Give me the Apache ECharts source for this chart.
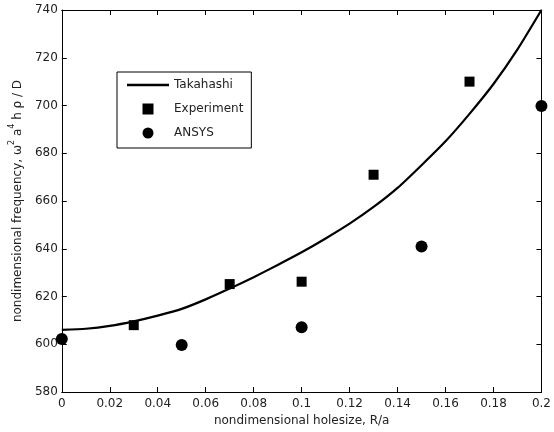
<!DOCTYPE html>
<html>
<head>
<meta charset="utf-8">
<script src="https://cdn.jsdelivr.net/npm/echarts@6/dist/echarts.min.js"></script>
<style>html,body{margin:0;padding:0;background:#fff}#c{width:554px;height:432px}</style>
</head>
<body>
<div id="c"></div>
<script>
// Data
var curveX = [0, 0.01, 0.02, 0.03, 0.04, 0.05, 0.06, 0.07, 0.08, 0.09, 0.10, 0.11, 0.12, 0.13, 0.14, 0.15, 0.16, 0.17, 0.18, 0.19, 0.20];
var takahashi = [606, 606.5, 607.7, 609.6, 612, 614.8, 618.8, 623.3, 628.1, 633.2, 638.5, 644.3, 650.5, 657.5, 665.5, 675, 685, 696.5, 709, 723.5, 740];
var experimentX = [0.03, 0.07, 0.10, 0.13, 0.17];
var experiment = [608, 625.2, 626.2, 671, 710];
var ansysX = [0, 0.05, 0.10, 0.15, 0.20];
var ansys = [602.2, 599.7, 607.1, 640.9, 699.8];
var xTicks = [0, 0.02, 0.04, 0.06, 0.08, 0.1, 0.12, 0.14, 0.16, 0.18, 0.2];
var yTicks = [580, 600, 620, 640, 660, 680, 700, 720, 740];

function zip(a, b) { return a.map(function (v, i) { return [v, b[i]]; }); }

var FONT = 'DejaVu Sans';
var TXT = '#222';
var axisCommon = {
  axisLine: { show: true, onZero: false, lineStyle: { color: '#000', width: 1 } },
  axisTick: { show: true, inside: true, length: 5, lineStyle: { color: '#000' } },
  splitLine: { show: false }
};

var chart = echarts.init(document.getElementById('c'), null, { renderer: 'canvas' });
chart.setOption({
  animation: false,
  backgroundColor: '#fff',
  grid: { left: 61, right: 10, top: 10, bottom: 40, containLabel: false },
  legend: {
    orient: 'vertical',
    left: 117, top: 72,
    padding: [7, 8, 9, 10],
    itemGap: 12,
    itemWidth: 42,
    itemHeight: 11,
    borderColor: '#000',
    borderWidth: 1,
    backgroundColor: '#fff',
    textStyle: { fontFamily: FONT, fontSize: 12, color: TXT },
    data: [
      { name: 'Takahashi', icon: 'path://M0,0L42,0L42,2.5L0,2.5Z', itemStyle: { color: '#000', opacity: 1 } },
      { name: 'Experiment', icon: 'path://M0,0L10,0L10,10L0,10Z', itemStyle: { color: '#000', opacity: 1 } },
      { name: 'ANSYS', icon: 'circle', itemStyle: { color: '#000', opacity: 1 } }
    ]
  },
  xAxis: [
    Object.assign({
      type: 'value', min: 0, max: 0.2, interval: 0.02, position: 'bottom',
      name: 'nondimensional holesize, R/a', nameLocation: 'middle', nameGap: 20,
      nameTextStyle: { fontFamily: FONT, fontSize: 12, color: TXT },
      axisLabel: { fontFamily: FONT, fontSize: 12, color: TXT, margin: 6,
        formatter: function (v) { var s = +v.toFixed(2); return String(s); } }
    }, axisCommon),
    Object.assign({
      type: 'value', min: 0, max: 0.2, interval: 0.02, position: 'top',
      axisLabel: { show: false }
    }, axisCommon)
  ],
  yAxis: [
    Object.assign({
      type: 'value', min: 580, max: 740, interval: 20, position: 'left',
      name: '{a|nondimensional frequency, ω}{s|2}{a| a}{s|4}{a| h ρ / D}',
      nameLocation: 'middle', nameGap: 30, nameRotate: 90,
      nameTextStyle: {
        fontFamily: FONT, fontSize: 12, color: TXT,
        rich: {
          a: { fontFamily: FONT, fontSize: 12, color: TXT, lineHeight: 16, verticalAlign: 'bottom' },
          s: { fontFamily: FONT, fontSize: 8, color: TXT, lineHeight: 16, verticalAlign: 'top' }
        }
      },
      axisLabel: { fontFamily: FONT, fontSize: 12, color: TXT, margin: 4 }
    }, axisCommon),
    Object.assign({
      type: 'value', min: 580, max: 740, interval: 20, position: 'right',
      axisLabel: { show: false }
    }, axisCommon)
  ],
  series: [
    {
      name: 'Takahashi', type: 'line', data: zip(curveX, takahashi),
      smooth: 0.2, symbol: 'none', showSymbol: false,
      lineStyle: { color: '#000', width: 2.2 }, itemStyle: { color: '#000' }, z: 2
    },
    {
      name: 'Experiment', type: 'scatter', data: zip(experimentX, experiment),
      symbol: 'rect', symbolSize: 10, itemStyle: { color: '#000', opacity: 1 }, z: 3
    },
    {
      name: 'ANSYS', type: 'scatter', data: zip(ansysX, ansys),
      symbol: 'circle', symbolSize: 12, itemStyle: { color: '#000', opacity: 1 }, z: 3
    }
  ]
});
</script>
</body>
</html>
